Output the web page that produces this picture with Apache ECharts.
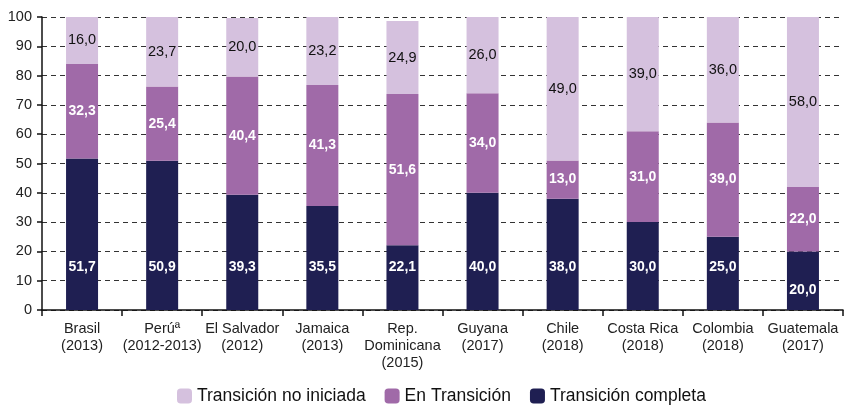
<!DOCTYPE html>
<html>
<head>
<meta charset="utf-8">
<script src="https://cdn.jsdelivr.net/npm/echarts@6/dist/echarts.min.js"></script>
<style>
html, body { margin: 0; padding: 0; background: #fff; }
#chart { width: 845px; height: 405px; }
</style>
</head>
<body>
<div id="chart"></div>
<script>
var categories = ['Brasil\n(2013)', 'Perúª\n(2012-2013)', 'El Salvador\n(2012)', 'Jamaica\n(2013)',
	'Rep.\nDominicana\n(2015)', 'Guyana\n(2017)', 'Chile\n(2018)', 'Costa Rica\n(2018)',
	'Colombia\n(2018)', 'Guatemala\n(2017)'];
var completa = [51.7, 50.9, 39.3, 35.5, 22.1, 40.0, 38.0, 30.0, 25.0, 20.0];
var enTransicion = [32.3, 25.4, 40.4, 41.3, 51.6, 34.0, 13.0, 31.0, 39.0, 22.0];
var noIniciada = [16.0, 23.7, 20.0, 23.2, 24.9, 26.0, 49.0, 39.0, 36.0, 58.0];

var chart = echarts.init(document.getElementById('chart'));

function fmt(p) {
	return p.value.toFixed(1).replace('.', ',');
}

// dark segment labels sit low in the bar; the short one closer to the base
var darkData = completa.map(function (v) {
	if (v < 21) {
		return { value: v, label: { distance: 13 } };
	}
	return v;
});

var option = {
	animation: false,
	textStyle: { fontFamily: 'Liberation Sans, Arial, sans-serif' },
	grid: { left: 42, right: 2, top: 17, bottom: 95 },
	legend: {
		bottom: -5,
		left: 172,
		itemWidth: 15,
		itemHeight: 15,
		itemGap: 19,
		textStyle: { fontSize: 17.5, color: '#111' },
		data: ['Transición no iniciada', 'En Transición', 'Transición completa']
	},
	xAxis: {
		type: 'category',
		data: categories,
		axisLine: { lineStyle: { color: '#111', width: 1.5 } },
		axisTick: { show: true, length: 6, lineStyle: { color: '#111', width: 1.5 } },
		axisLabel: { fontSize: 14.5, color: '#222', lineHeight: 17, margin: 10, interval: 0 }
	},
	yAxis: {
		type: 'value',
		min: 0,
		max: 100,
		interval: 10,
		axisLine: { show: true, lineStyle: { color: '#111', width: 1.5 } },
		axisTick: { show: true, length: 5, lineStyle: { color: '#111', width: 1.5 } },
		axisLabel: { fontSize: 14.5, color: '#222', margin: 10 },
		splitLine: { lineStyle: { color: '#333', type: [5, 4], width: 1 } }
	},
	series: [
		{
			name: 'Transición completa',
			type: 'bar',
			stack: 'total',
			barWidth: 32,
			data: darkData,
			itemStyle: { color: '#1f1f52' },
			label: {
				show: true, position: 'insideBottom', distance: 36,
				color: '#fff', fontWeight: 'bold', fontSize: 14, formatter: fmt
			}
		},
		{
			name: 'En Transición',
			type: 'bar',
			stack: 'total',
			data: enTransicion,
			itemStyle: { color: '#a06aa8' },
			label: {
				show: true, position: 'inside',
				color: '#fff', fontWeight: 'bold', fontSize: 14, formatter: fmt
			}
		},
		{
			name: 'Transición no iniciada',
			type: 'bar',
			stack: 'total',
			data: noIniciada,
			itemStyle: { color: '#d5c1de' },
			label: {
				show: true, position: 'inside',
				color: '#111', fontSize: 14.5, formatter: fmt
			}
		}
	]
};

chart.setOption(option);
</script>
</body>
</html>
